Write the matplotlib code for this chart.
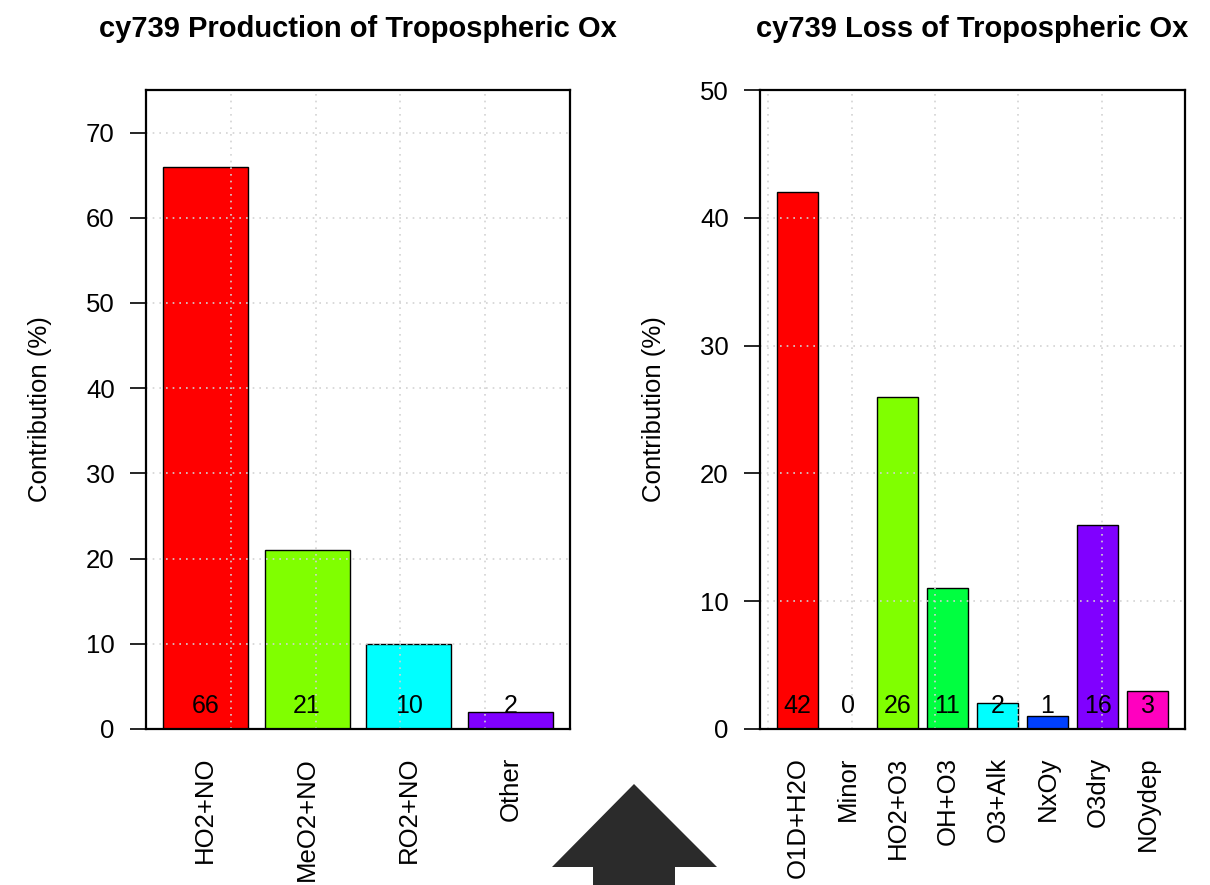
import matplotlib
matplotlib.use("Agg")
import matplotlib.pyplot as plt
from matplotlib.patches import Polygon
import numpy as np

plt.rcParams['font.family'] = ['Liberation Sans', 'DejaVu Sans']

# data
run_name = 'cy739'
prod_labels = ['HO2+NO', 'MeO2+NO', 'RO2+NO', 'Other']
prod_vals = [66, 21, 10, 2]
prod_colors = ['#FF0000', '#80FF00', '#00FFFF', '#8000FF']

loss_labels = ['O1D+H2O', 'Minor', 'HO2+O3', 'OH+O3', 'O3+Alk', 'NxOy', 'O3dry', 'NOydep']
loss_vals = [42, 0, 26, 11, 2, 1, 16, 3]
loss_colors = ['#FF0000', '#FFBF00', '#80FF00', '#00FF40', '#00FFFF', '#0040FF', '#8000FF', '#FF00BF']

W, H = 1210, 885
fig = plt.figure(figsize=(W / 100, H / 100), dpi=100)


def panel(rect, labels, vals, colors, ylim, yticks, xlim, grid_x, title):
      ax = fig.add_axes(rect)
      x = 0.7 + 1.2 * np.arange(len(vals))
      ax.bar(x, vals, width=1.0, color=colors, edgecolor='black', linewidth=1.0, zorder=2)
      ax.set_xlim(*xlim)
      ax.set_ylim(*ylim)
      # dotted grid drawn over the bars, like R's grid()
      for g in grid_x:
            ax.axvline(g, color='#d3d3d3', linestyle=(0, (1, 3)), linewidth=1.2, zorder=3)
      for t in yticks:
            ax.axhline(t, color='#d3d3d3', linestyle=(0, (1, 3)), linewidth=1.2, zorder=3)
      for xi, v in zip(x, vals):
            ax.text(xi, 0.036, str(int(round(v))), transform=ax.get_xaxis_transform(),
                    ha='center', va='center', fontsize=18, zorder=4)
      ax.set_yticks(yticks)
      ax.set_yticklabels([str(t) for t in yticks])
      ax.set_xticks(x)
      ax.set_xticklabels(labels, rotation=90, va='top', ha='center')
      ax.tick_params(axis='y', length=11.5, width=1.2, pad=11, labelsize=18.5)
      ax.tick_params(axis='x', length=0, pad=20, labelsize=18.5)
      for s in ax.spines.values():
            s.set_linewidth(1.6)
            s.set_zorder(5)
      ax.set_ylabel('Contribution (%)', fontsize=18.5)
      ax.yaxis.set_label_coords(-0.222, 0.5)
      ax.set_title(title, fontsize=21, fontweight='bold', pad=38.5)
      return ax


panel([146 / W, 1 - 729 / H, 424 / W, 639 / H], prod_labels, prod_vals, prod_colors,
      (0, 75), list(range(0, 71, 10)), (0, 5), [1, 2, 3, 4],
      run_name + ' Production of Tropospheric Ox')
panel([760 / W, 1 - 729 / H, 425 / W, 639 / H], loss_labels, loss_vals, loss_colors,
      (0, 50), list(range(0, 51, 10)), (-0.2, 10), [0, 2, 4, 6, 8],
      run_name + ' Loss of Tropospheric Ox')

# up arrow decoration at the bottom centre
arrow_px = [(552, 867), (634, 784), (717, 867), (675, 867), (675, 886), (593, 886), (593, 867)]
arrow = Polygon([(px / W, 1 - py / H) for px, py in arrow_px], closed=True,
                facecolor='#2b2b2b', edgecolor='none', transform=fig.transFigure)
fig.patches.append(arrow)

fig.savefig('out.png', dpi=100)
